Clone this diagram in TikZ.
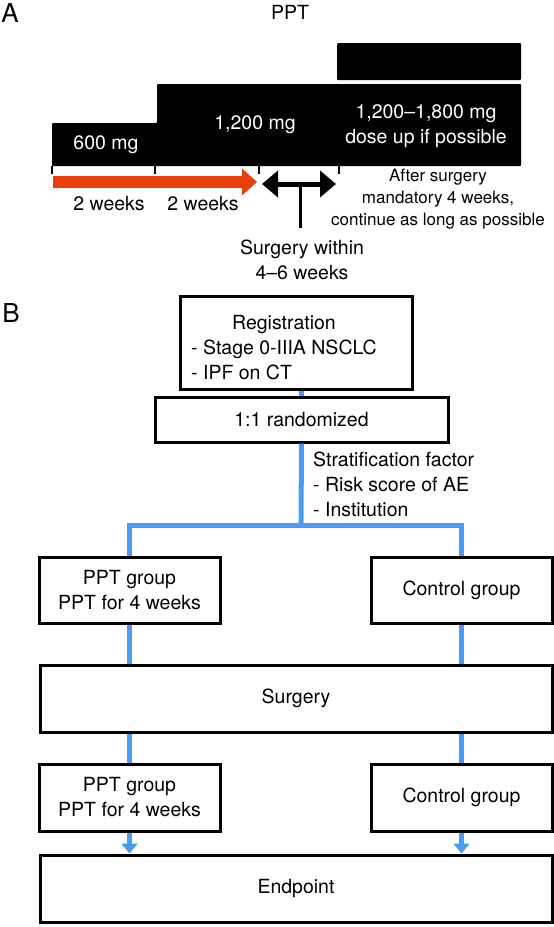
\documentclass[tikz,border=0pt]{standalone}
\usepackage{fontspec}
\setmainfont{TeX Gyre Heros}
\usepackage{xcolor}
\usepackage{tikz}
\usetikzlibrary{arrows.meta, positioning}

\definecolor{pptred}{RGB}{233,62,12}
\definecolor{flowblue}{RGB}{74,155,245}

\begin{document}
\begin{tikzpicture}[x=1pt, y=-1pt]

    % Define styles
    \tikzstyle{box} = [rectangle, draw=black, line width=3pt, minimum width=181pt, minimum height=66pt, text centered, align=center, font=\fontsize{19.5}{25}\selectfont]
    \tikzstyle{wide} = [box, minimum width=512pt, minimum height=67pt]
    \tikzstyle{txt} = [align=center, inner sep=0pt, font=\fontsize{19.5}{25}\selectfont]
    \tikzstyle{wtxt} = [txt, text=white]
    \tikzstyle{small} = [align=center, inner sep=0pt, font=\fontsize{17}{22}\selectfont]
    \tikzstyle{panel} = [inner sep=0pt, font=\fontsize{26}{30}\selectfont]
    \tikzstyle{link} = [draw=flowblue, line width=5pt]
    \tikzstyle{tick} = [line width=2pt]

    \useasboundingbox (0,0) rectangle (554,927);

    % Panel A: dosing scheme
    \node (lblA) [panel] at (10,13) {A};
    \node (title) [txt] at (290,12) {PPT};

    \fill[rounded corners=1pt] (337,43) rectangle (521,80);
    \fill[rounded corners=1pt] (52,123) -- (157,123) -- (157,84) -- (521,84) -- (521,166) -- (52,166) -- cycle;

    \node (d600) [wtxt] at (106,145) {600 mg};
    \node (d1200) [wtxt] at (255,125) {1,200 mg};
    \node (dup) [wtxt] at (426,126) {1,200–1,800 mg\\dose up if possible};

    \foreach \x in {52,155,259,339}
        \draw[tick] (\x,166) -- (\x,174);

    \coordinate (rs) at (53,182);
    \coordinate (re) at (257,182);
    \coordinate (sl) at (262,184);
    \coordinate (sr) at (336,184);
    \coordinate (sm) at (300,184);
    \coordinate (sb) at (300,228);

    \draw[pptred, line width=12pt, -{Triangle[length=15pt, width=26pt]}] (rs) -- (re);
    \draw[line width=5pt, {Triangle[length=16pt, width=26pt]}-{Triangle[length=16pt, width=26pt]}] (sl) -- (sr);
    \draw[line width=3pt] (sm) -- (sb);

    \node (wk1) [txt] at (109,204) {2 weeks};
    \node (wk2) [txt] at (203,204) {2 weeks};
    \node (after) [small] at (438,199) {After surgery\\mandatory 4 weeks,\\continue as long as possible};
    \node (within) [txt] at (302,260) {Surgery within\\4–6 weeks};

    % Panel B: study flow
    \node (lblB) [panel] at (11,313) {B};

    \node (reg) [box, minimum width=232pt, minimum height=93pt] at (296,342.5) {};
    \node (regtext) [txt, anchor=west] at (191,349) {\begin{tabular}{@{}l@{}}\multicolumn{1}{@{}c@{}}{Registration}\\- Stage 0-IIIA NSCLC\\- IPF on CT\end{tabular}};
    \node (rand) [box, minimum width=293pt, minimum height=45pt] at (301.5,419.5) {1:1 randomized};
    \coordinate (split) at (301,525);
    \node (strat) [txt, align=left, anchor=west] at (313,484) {Stratification factor\\- Risk score of AE\\- Institution};

    \node (ppt1) [box] at (129.5,590) {PPT group\\PPT for 4 weeks};
    \node (ctrl1) [box] at (461.5,590) {Control group};
    \node (surg) [wide] at (296,698.5) {Surgery};
    \node (ppt2) [box, minimum height=67pt] at (129.5,797.5) {PPT group\\PPT for 4 weeks};
    \node (ctrl2) [box, minimum height=67pt] at (461.5,797.5) {Control group};
    \node (endp) [wide] at (296,888.5) {Endpoint};

    % Lines
    \draw[link] (rand.north) -- (rand.north |- reg.south);
    \draw[link] (rand.south) -- (split);
    \draw[link] (split) -| (ppt1.north);
    \draw[link] (split) -| (ctrl1.north);
    \draw[link] (ppt1.south) -- (ppt1.south |- surg.north);
    \draw[link] (ctrl1.south) -- (ctrl1.south |- surg.north);
    \draw[link] (ppt2.north |- surg.south) -- (ppt2.north);
    \draw[link] (ctrl2.north |- surg.south) -- (ctrl2.north);
    \draw[link, -{Triangle[length=10pt, width=16pt]}] (ppt2.south) -- (ppt2.south |- endp.north);
    \draw[link, -{Triangle[length=10pt, width=16pt]}] (ctrl2.south) -- (ctrl2.south |- endp.north);

\end{tikzpicture}
\end{document}
